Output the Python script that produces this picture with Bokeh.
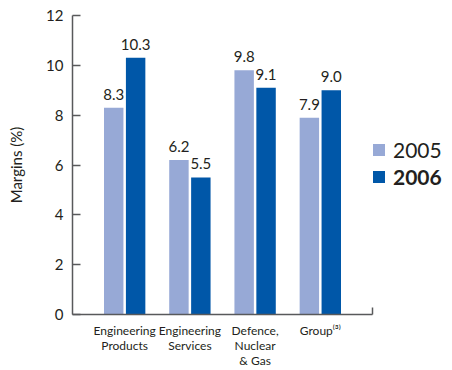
from bokeh.plotting import figure
from bokeh.models import (ColumnDataSource, Range1d, FixedTicker, Legend, LegendItem)
from bokeh.core.properties import value
from bokeh.embed import file_html
from bokeh.resources import INLINE

# Operating margins by division
categories = ["Engineering\nProducts", "Engineering\nServices",
              "Defence,\nNuclear\n& Gas", "Group\u207d\u00b3\u207e"]
margins_2005 = [8.3, 6.2, 9.8, 7.9]
margins_2006 = [10.3, 5.5, 9.1, 9.0]
y_ticks = [0, 2, 4, 6, 8, 10, 12]

FONT = "Lato"
TEXT = "#231f20"
AXIS = "#58595b"
LIGHT = "#97a9d6"
DARK = "#0057a8"

idx = list(range(len(categories)))
offset = 0.168
bar_w = 0.298
x_start, x_axis_end = -0.8, 3.8
# plot area runs on past the axis end to leave room for the legend
x_end = x_start + (x_axis_end - x_start) * 380 / 300

src05 = ColumnDataSource(dict(x=[i - offset for i in idx], top=margins_2005,
                              lab=[f"{v:.1f}" for v in margins_2005]))
src06 = ColumnDataSource(dict(x=[i + offset for i in idx], top=margins_2006,
                              lab=[f"{v:.1f}" for v in margins_2006]))

p = figure(width=452, height=370, output_backend="svg", toolbar_location=None,
           x_range=Range1d(x_start, x_end), y_range=Range1d(0, 12),
           min_border_left=72, min_border_right=0,
           min_border_top=15, min_border_bottom=55)
p.outline_line_color = None
p.background_fill_color = "white"
p.border_fill_color = "white"
p.xgrid.visible = False
p.ygrid.visible = False

r05 = p.vbar(x="x", top="top", width=bar_w, source=src05,
             fill_color=LIGHT, line_color=None)
r06 = p.vbar(x="x", top="top", width=bar_w, source=src06,
             fill_color=DARK, line_color=None)

for s in (src05, src06):
    p.text(x="x", y="top", text="lab", source=s, text_align="center",
           text_baseline="bottom", y_offset=-8, text_font=value(FONT),
           text_font_size="15px", text_color=TEXT)

# y axis
yax = p.yaxis[0]
yax.ticker = FixedTicker(ticks=y_ticks)
yax.axis_label = "Margins (%)"
yax.axis_label_text_font = FONT
yax.axis_label_text_font_style = "normal"
yax.axis_label_text_font_size = "15px"
yax.axis_label_text_color = TEXT
yax.axis_label_standoff = 18
yax.major_label_text_font = FONT
yax.major_label_text_font_size = "15px"
yax.major_label_text_color = TEXT
yax.major_label_standoff = 9
yax.major_tick_in = 8
yax.major_tick_out = 0
yax.minor_tick_line_color = None
yax.axis_line_color = AXIS
yax.axis_line_width = 1.5
yax.major_tick_line_color = AXIS
yax.major_tick_line_width = 1.5

# x axis: category labels, plus a closing tick at the right end
xax = p.xaxis[0]
xax.bounds = (x_start, x_axis_end)
xax.ticker = FixedTicker(ticks=idx, minor_ticks=[x_axis_end])
xax.major_label_overrides = {i: c for i, c in zip(idx, categories)}
xax.major_label_text_font = FONT
xax.major_label_text_font_size = "12px"
xax.major_label_text_line_height = 1.0
xax.major_label_text_color = TEXT
xax.major_label_standoff = 8
xax.major_tick_in = 0
xax.major_tick_out = 0
xax.minor_tick_in = 7
xax.minor_tick_out = 0
xax.minor_tick_line_color = AXIS
xax.minor_tick_line_width = 1.5
xax.axis_line_color = AXIS
xax.axis_line_width = 1.5

# Legend: 2005 regular, 2006 bold
for r, lab, style, vy in ((r05, "2005", "normal", 152), (r06, "2006", "bold", 125)):
    lg = Legend(items=[LegendItem(label=lab, renderers=[r])],
                location=(299, vy), orientation="vertical",
                glyph_width=15, glyph_height=15, label_standoff=7,
                label_text_font=FONT, label_text_font_size="21px",
                label_text_font_style=style, label_text_color=TEXT,
                padding=0, margin=0, spacing=0,
                border_line_color=None, background_fill_alpha=0)
    p.add_layout(lg, "center")

open("out.html", "w").write(file_html(p, INLINE))
